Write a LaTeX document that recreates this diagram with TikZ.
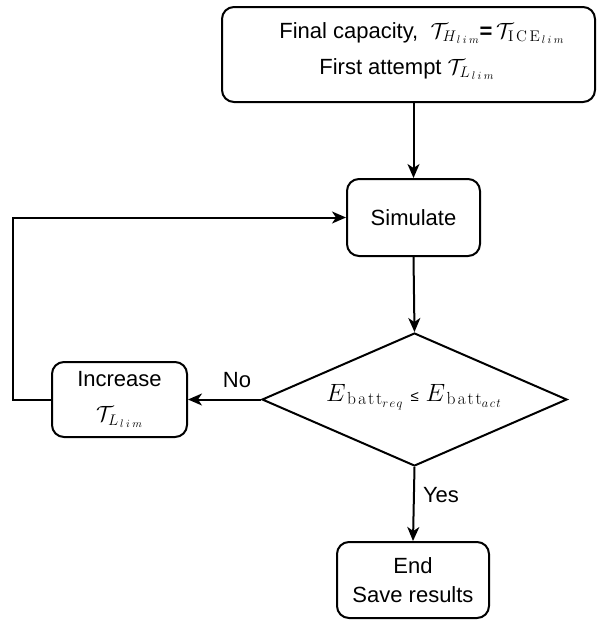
\RequirePackage{fix-cm}
\documentclass[tikz,border=0pt]{standalone}
\usepackage[no-math]{fontspec}
\setmainfont{Liberation Sans}
\usetikzlibrary{shapes.geometric,arrows.meta}
\newcommand{\mylim}{l\mkern4mu i\mkern4mu m}
\newcommand{\myice}{\mathrm{I\mkern3mu C\mkern3mu E}}
\newcommand{\mybatt}{\mathrm{b\mkern2mu a\mkern2mu t\mkern2mu t}}
\begin{document}
\begin{tikzpicture}[x=1pt,y=-1pt,
  every node/.style={font=\fontsize{22}{26}\selectfont},
  rbox/.style={draw,line width=2pt,rounded corners=12pt,align=center,inner sep=0pt},
  decision/.style={draw,line width=2pt,diamond,aspect=2.3,inner sep=0pt,minimum width=305pt,minimum height=133pt},
  conn/.style={line width=2pt,-{Stealth[length=14pt,width=12pt,inset=4pt]}},
  lbl/.style={inner sep=0pt,align=center}
]
\useasboundingbox (0,0) rectangle (597,622);
\node[rbox,minimum width=373pt,minimum height=95pt] (top) at (408.5,54.5) {};
\node[lbl] (topa) at (422,33) {Final capacity,\ \ $\mathcal{T}_{H_{\,\mylim}}$\textbf{=}\,$\mathcal{T}_{\myice_{\,\mylim}}$};
\node[lbl] (topb) at (407,69) {First attempt $\mathcal{T}_{L_{\,\mylim}}$};
\node[rbox,minimum width=133pt,minimum height=77pt] (sim) at (413.5,217.5) {Simulate};
\node[decision] (dia) at (414.5,399.5) {};
\node[lbl] (diatext) at (414,397) {\fontsize{25}{28}\selectfont$E_{\,\mybatt_{r\mkern2mu e\mkern2mu q}}$\ {\fontsize{15}{18}\selectfont ≤}\ $E_{\,\mybatt_{a\mkern2mu c\mkern2mu t}}$};
\node[rbox,minimum width=135pt,minimum height=75pt] (inc) at (119.5,399.5)
  {Increase\\[9pt]$\mathcal{T}_{L_{\,\mylim}}$};
\node[rbox,minimum width=152pt,minimum height=76pt] (end) at (413,580)
  {End\\[3pt]Save results};
\coordinate (corner) at (13,217.5);
\draw[conn] (top.south -| sim.north) -- (sim.north);
\draw[conn] (sim.south) -- (dia.north);
\draw[conn] (dia.west) -- (inc.east);
\draw[conn] (dia.south) -- (end.north);
\draw[conn] (inc.west) -| (corner) -- (sim.west);
\node[lbl] (no) at (237,380) {No};
\node[lbl] (yes) at (441,495) {Yes};
\end{tikzpicture}
\end{document}
